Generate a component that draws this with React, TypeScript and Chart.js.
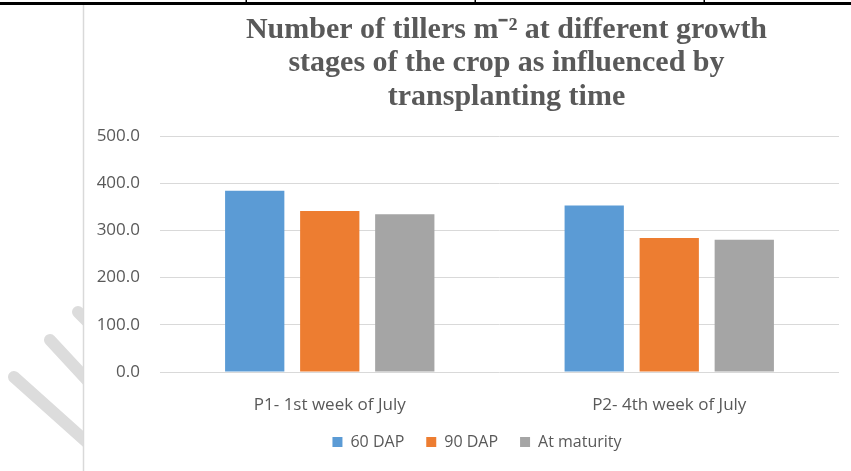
import React, { useEffect, useRef } from "react";
import { Chart, registerables } from "chart.js";

Chart.register(...registerables);

const categories = ["P1- 1st week of July", "P2- 4th week of July"];
const seriesNames = ["60 DAP", "90 DAP", "At maturity"];
const dap60 = [384, 353];
const dap90 = [341, 284];
const atMaturity = [334, 280];
const seriesColors = ["#5B9BD5", "#ED7D31", "#A5A5A5"];
const yMin = 0;
const yMax = 500;
const yStep = 100;
const titleLines = [
  "Number of tillers m\u207B\u00B2 at different growth",
  "stages of the crop as influenced by",
  "transplanting time",
];

const TEXT = "#595959";
const GRID = "#D9D9D9";
const SANS = "'Open Sans', 'Liberation Sans', sans-serif";
const SERIF = "'Liberation Serif', 'Times New Roman', serif";

// Excel centres title and legend on the whole chart object, not the plot area
const centreShift = {
  id: "centreShift",
  afterLayout(chart: any) {
    const lg = chart.legend;
    if (lg) {
      lg.left += 18;
      lg.right += 18;
      lg.top -= 5;
      lg.bottom -= 5;
    }
    const t = chart.titleBlock;
    if (t) {
      t.left += 7;
      t.right += 7;
    }
  },
};

export default function App() {
  const ref = useRef<HTMLCanvasElement>(null);

  useEffect(() => {
    if (!ref.current) return;
    const values = [dap60, dap90, atMaturity];
    const chart = new Chart(ref.current, {
      type: "bar",
      data: {
        labels: categories,
        datasets: seriesNames.map((name, i) => ({
          label: name,
          data: values[i],
          backgroundColor: seriesColors[i],
          borderWidth: 0,
          categoryPercentage: 0.663,
          barPercentage: 0.79,
        })),
      },
      plugins: [centreShift],
      options: {
        animation: false,
        responsive: true,
        maintainAspectRatio: false,
        layout: { padding: { left: 79, right: 12, top: 13, bottom: 6 } },
        plugins: {
          title: {
            display: true,
            text: titleLines,
            fullSize: false,
            color: TEXT,
            font: { family: SERIF, size: 30, weight: "bold", lineHeight: 1.12 },
            padding: { top: 0, bottom: 22.2 },
          },
          legend: {
            display: true,
            position: "bottom",
            labels: {
              color: TEXT,
              font: { family: SANS, size: 16 },
              boxWidth: 10,
              boxHeight: 10,
              padding: 22,
            },
          },
          tooltip: { enabled: false },
        },
        scales: {
          x: {
            grid: { display: false, drawTicks: false },
            border: { display: false },
            afterFit: (scale: any) => {
              scale.height = 45;
            },
            ticks: {
              color: TEXT,
              font: { family: SANS, size: 17 },
              padding: 23,
            },
          },
          y: {
            min: yMin,
            max: yMax,
            grid: { color: GRID, lineWidth: 1, drawTicks: false },
            border: { display: false },
            afterFit: (scale: any) => {
              scale.width = 81;
            },
            ticks: {
              stepSize: yStep,
              color: TEXT,
              font: { family: SANS, size: 17 },
              padding: 20,
              callback: (v: any) => Number(v).toFixed(1),
            },
          },
        },
      },
    });
    return () => chart.destroy();
  }, []);

  return (
    <div
      style={{
        position: "absolute",
        left: 0,
        top: 0,
        width: 851,
        height: 471,
        background: "#fff",
        overflow: "hidden",
      }}
    >
      <svg
        width={851}
        height={471}
        style={{ position: "absolute", left: 0, top: 0 }}
      >
        <defs>
          <clipPath id="wmclip">
            <rect x={0} y={0} width={83} height={471} />
          </clipPath>
        </defs>
        <g
          clipPath="url(#wmclip)"
          stroke="#DCDCDC"
          strokeWidth={12}
          strokeLinecap="round"
        >
          <line x1={78} y1={312} x2={130} y2={364} />
          <line x1={50} y1={340} x2={100} y2={394} />
          <line x1={14} y1={377} x2={110} y2={463} />
        </g>
        <rect x={0} y={2} width={851} height={3} fill="#000" />
        <rect x={245.5} y={0} width={1.5} height={4} fill="#000" />
        <rect x={474.5} y={0} width={1.5} height={4} fill="#000" />
        <rect x={703.5} y={0} width={1.5} height={4} fill="#000" />
        <line x1={83.5} y1={5} x2={83.5} y2={471} stroke="#D9D9D9" strokeWidth={1.5} />
      </svg>
      <div
        style={{ position: "absolute", left: 0, top: 0, width: 851, height: 471 }}
      >
        <canvas ref={ref} />
      </div>
    </div>
  );
}
